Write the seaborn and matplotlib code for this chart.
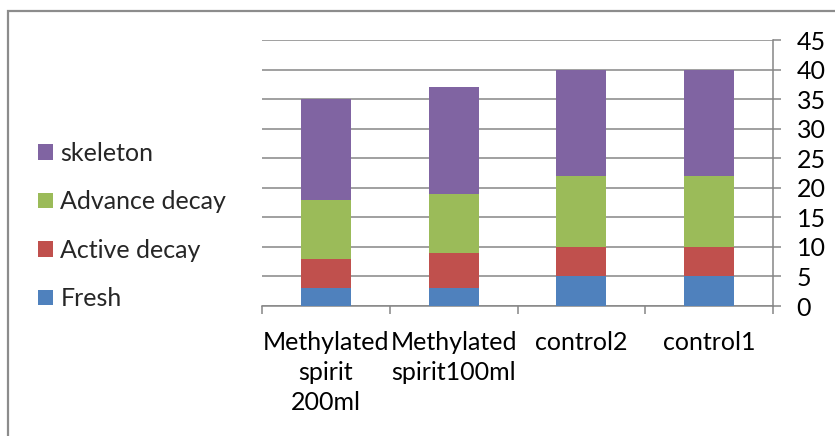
import matplotlib
matplotlib.use("Agg")
import matplotlib.pyplot as plt
import matplotlib.patches as mpatches
import numpy as np
import pandas as pd
import seaborn as sns

# Decomposition stages per treatment (stacked bottom to top)
categories = ["Methylated\nspirit\n200ml", "Methylated\nspirit100ml", "control2", "control1"]
fresh = [3, 3, 5, 5]
active_decay = [5, 6, 5, 5]
advance_decay = [10, 10, 12, 12]
skeleton = [17, 18, 18, 18]

stage_names = ["Fresh", "Active decay", "Advance decay", "skeleton"]
stage_values = [fresh, active_decay, advance_decay, skeleton]
stage_colors = ["#4F81BD", "#C0504D", "#9BBB59", "#8064A2"]
y_ticks = [0, 5, 10, 15, 20, 25, 30, 35, 40, 45]

sns.set_theme(style="white")
plt.rcParams["font.family"] = ["Lato", "DejaVu Sans"]

W, H, DPI = 835, 436, 100
fig = plt.figure(figsize=(W / DPI, H / DPI), dpi=DPI)
ax = fig.add_axes([262 / W, 1 - 306 / H, (773 - 262) / W, (306 - 40) / H])

# cumulative tops for stacking; draw tallest layer first so lower layers sit on top
df = pd.DataFrame({"category": categories})
cum = np.cumsum(np.array(stage_values), axis=0)
for i in range(len(stage_names) - 1, -1, -1):
    df["top"] = cum[i]
    sns.barplot(data=df, x="category", y="top", order=categories,
                color=stage_colors[i], width=0.39, saturation=1,
                linewidth=0, ax=ax, zorder=3)

grid_c = "#868686"
ax.set_xlim(-0.5, len(categories) - 0.5)
ax.set_ylim(0, 45)
ax.set_yticks(y_ticks)
ax.yaxis.tick_right()
ax.yaxis.grid(True, color=grid_c, linewidth=1.1, zorder=0)
ax.set_axisbelow(True)
ax.tick_params(axis="y", which="major", right=True, left=False, length=6,
               width=1.1, color=grid_c, pad=11, labelsize=18, labelcolor="black")

# category boundaries as ticks, names centred between them
ax.set_xticks(np.arange(-0.5, len(categories), 1.0))
ax.set_xticklabels([])
ax.set_xticks(np.arange(len(categories)), minor=True)
ax.set_xticklabels(categories, minor=True, fontsize=18, linespacing=1.38)
ax.tick_params(axis="x", which="major", bottom=True, length=6, width=1.1, color=grid_c)
ax.tick_params(axis="x", which="minor", bottom=False, length=0, pad=18, labelcolor="black")
ax.set_xlabel("")
ax.set_ylabel("")

for side in ["left", "top"]:
    ax.spines[side].set_visible(False)
for side in ["right", "bottom"]:
    ax.spines[side].set_visible(True)
    ax.spines[side].set_color(grid_c)
    ax.spines[side].set_linewidth(1.1)

handles = [mpatches.Patch(facecolor=c, edgecolor="none", label=n)
           for n, c in zip(stage_names[::-1], stage_colors[::-1])]
fig.legend(handles=handles, loc="center left", bbox_to_anchor=(38 / W, 1 - 226 / H),
           frameon=False, fontsize=18, handlelength=0.6, handleheight=0.6,
           handletextpad=0.3, labelspacing=1.02, borderaxespad=0, borderpad=0)

# chart frame
fig.patches.append(mpatches.Rectangle((8 / W, -0.05), 1.1, 1 - 11 / H + 0.05,
                                      transform=fig.transFigure, fill=False,
                                      edgecolor="#8c8c8c", linewidth=1.6))

fig.savefig("out.png", dpi=DPI)
